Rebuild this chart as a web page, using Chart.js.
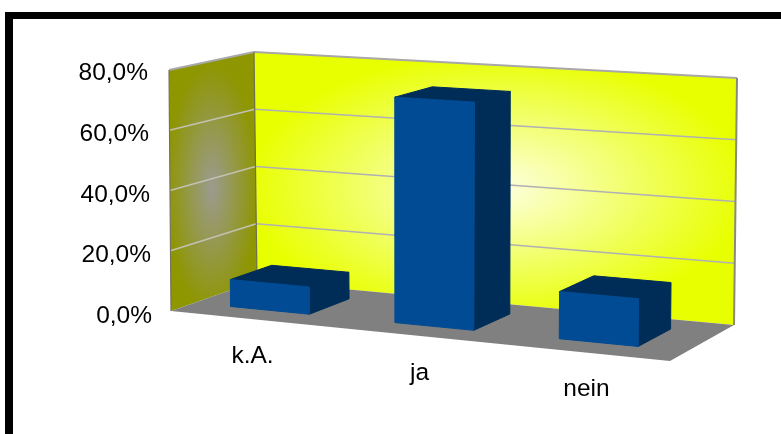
<!DOCTYPE html>
<html>
<head>
<meta charset="utf-8">
<script src="https://cdn.jsdelivr.net/npm/chart.js@4"></script>
<style>
  html, body { margin: 0; background: #fff; overflow: hidden; }
  #frame { position: absolute; left: 5px; top: 12px; width: 776px; height: 422px;
           box-sizing: border-box; border-left: 8px solid #000; border-top: 7px solid #000; }
  canvas { position: absolute; left: 0; top: 0; }
</style>
</head>
<body>
<div id="frame"></div>
<canvas id="myChart" width="781" height="434"></canvas>
<script>
'use strict'

let categories = ['k.A.', 'ja', 'nein'];
let shares = [9, 73.5, 15];
let yTicks = [0, 20, 40, 60, 80];
let yTickLabels = ['0,0%', '20,0%', '40,0%', '60,0%', '80,0%'];

// corners of the 3D box on screen: f = front, b = back, l/r, 0 = floor, 1 = top
const fl0 = [171, 311], fr0 = [670, 361], bl0 = [257, 281], br0 = [734, 325];
const fl1 = [169, 70], fr1 = [673, 101], bl1 = [254, 52], br1 = [737, 78];

function mix(a, b, t) {
    return [a[0] + (b[0] - a[0]) * t, a[1] + (b[1] - a[1]) * t];
}

// u along the categories, h up the value axis, d into the depth, all 0..1
function project(u, h, d) {
    let floor = mix(mix(fl0, fr0, u), mix(bl0, br0, u), d);
    let top = mix(mix(fl1, fr1, u), mix(bl1, br1, u), d);
    return mix(floor, top, h);
}

function poly(ctx, pts) {
    ctx.beginPath();
    pts.forEach((p, i) => i ? ctx.lineTo(p[0], p[1]) : ctx.moveTo(p[0], p[1]));
    ctx.closePath();
}

function line(ctx, a, b, color, width) {
    ctx.strokeStyle = color;
    ctx.lineWidth = width;
    ctx.beginPath();
    ctx.moveTo(a[0], a[1]);
    ctx.lineTo(b[0], b[1]);
    ctx.stroke();
}

// elliptical gradient clipped to a wall
function wall(ctx, pts, cx, cy, rx, ry, inner, outer) {
    ctx.save();
    poly(ctx, pts);
    ctx.clip();
    ctx.translate(cx, cy);
    ctx.scale(rx, ry);
    let g = ctx.createRadialGradient(0, 0, 0, 0, 0, 1);
    g.addColorStop(0, inner);
    g.addColorStop(1, outer);
    ctx.fillStyle = g;
    ctx.fillRect(-3, -3, 6, 6);
    ctx.restore();
}

function face(ctx, pts, color) {
    poly(ctx, pts);
    ctx.fillStyle = color;
    ctx.fill();
    ctx.strokeStyle = color;
    ctx.lineWidth = 1;
    ctx.lineJoin = 'round';
    ctx.stroke();
}

const box3d = {
    id: 'box3d',
    beforeDraw(chart) {
        // move the tick labels onto the slanted edges of the box
        let x = chart.scales.x, y = chart.scales.y;
        x.getLabelItems().forEach(item => {
            item.textOffset = 0;
            item.options.textBaseline = 'alphabetic';
            item.options.translation[1] = 363 + 0.099 * (item.options.translation[0] - 252.5);
        });
        y.getLabelItems().forEach(item => {
            let px = item.options.translation[1];
            item.textOffset = 0;
            item.options.textBaseline = 'alphabetic';
            item.options.textAlign = 'right';
            item.options.translation[0] = 148 + 4 * (px - chart.chartArea.top) / chart.chartArea.height;
            item.options.translation[1] = px + 10.2 + (px - chart.chartArea.top) * 0.003;
        });
    },
    beforeDatasetsDraw(chart) {
        let ctx = chart.ctx;
        let area = chart.chartArea;
        let yScale = chart.scales.y;
        let toU = px => (px - area.left) / area.width;
        let toH = py => (area.bottom - py) / area.height;

        // walls and floor
        wall(ctx, [bl0, br0, br1, bl1], 497, 188, 250, 135, '#fdffe2', '#e8ff00');
        wall(ctx, [fl0, bl0, bl1, fl1], 212, 188, 46, 125, '#9b9b90', '#8e9600');
        poly(ctx, [fl0, fr0, br0, bl0]);
        ctx.fillStyle = '#808080';
        ctx.fill();

        // grid lines, both walls
        yTicks.slice(1, -1).forEach(v => {
            let h = toH(yScale.getPixelForValue(v));
            line(ctx, project(0, h, 0), project(0, h, 1), '#c2c2b4', 1.5);
            line(ctx, project(0, h, 1), project(1, h, 1), '#b0b0b4', 1.5);
        });

        // edges
        line(ctx, fl1, bl1, '#a8a8a8', 2);
        line(ctx, bl1, br1, '#a8a8a8', 2);
        line(ctx, fl1, fl0, '#74745e', 1.2);
        line(ctx, bl1, bl0, '#6e6e50', 1.2);
        line(ctx, br1, br0, '#8a8a78', 2);

        // bars, built from the positions of the library's own bar elements
        let d0 = 0.27, d1 = 0.76, shift = -0.013;
        chart.getDatasetMeta(0).data.forEach(bar => {
            let left = toU(bar.x - bar.width / 2) + shift;
            let right = toU(bar.x + bar.width / 2) + shift;
            let top = toH(bar.y);
            let dark = chart.data.datasets[0].sideColor;
            face(ctx, [project(left, top, d0), project(right, top, d0), project(right, top, d1), project(left, top, d1)], dark);
            face(ctx, [project(right, 0, d0), project(right, 0, d1), project(right, top, d1), project(right, top, d0)], dark);
            face(ctx, [project(left, 0, d0), project(right, 0, d0), project(right, top, d0), project(left, top, d0)], bar.options.backgroundColor);
        });
        return false;
    }
};

let ctx = document.getElementById('myChart').getContext('2d');
let myChart = new Chart(ctx, {
    type: 'bar',
    data: {
        labels: categories,
        datasets: [{
            data: shares,
            backgroundColor: '#004b93',
            sideColor: '#002d58',
            barPercentage: 0.48,
            categoryPercentage: 1
        }]
    },
    plugins: [box3d],
    options: {
        responsive: false,
        animation: false,
        layout: { padding: { left: 0, top: 70, right: 111, bottom: 0 } },
        plugins: { legend: { display: false }, tooltip: { enabled: false } },
        scales: {
            x: {
                afterFit(scale) { scale.height = 122; },
                grid: { display: false },
                border: { display: false },
                ticks: { color: '#000', maxRotation: 0, font: { family: 'Liberation Sans', size: 24.5 } }
            },
            y: {
                min: 0,
                max: 80,
                afterFit(scale) { scale.width = 169; },
                afterBuildTicks(scale) { scale.ticks = yTicks.map(v => ({ value: v })); },
                grid: { display: false },
                border: { display: false },
                ticks: {
                    color: '#000',
                    font: { family: 'Liberation Sans', size: 24.5 },
                    callback: (value) => yTickLabels[yTicks.indexOf(value)]
                }
            }
        }
    }
});
</script>
</body>
</html>
